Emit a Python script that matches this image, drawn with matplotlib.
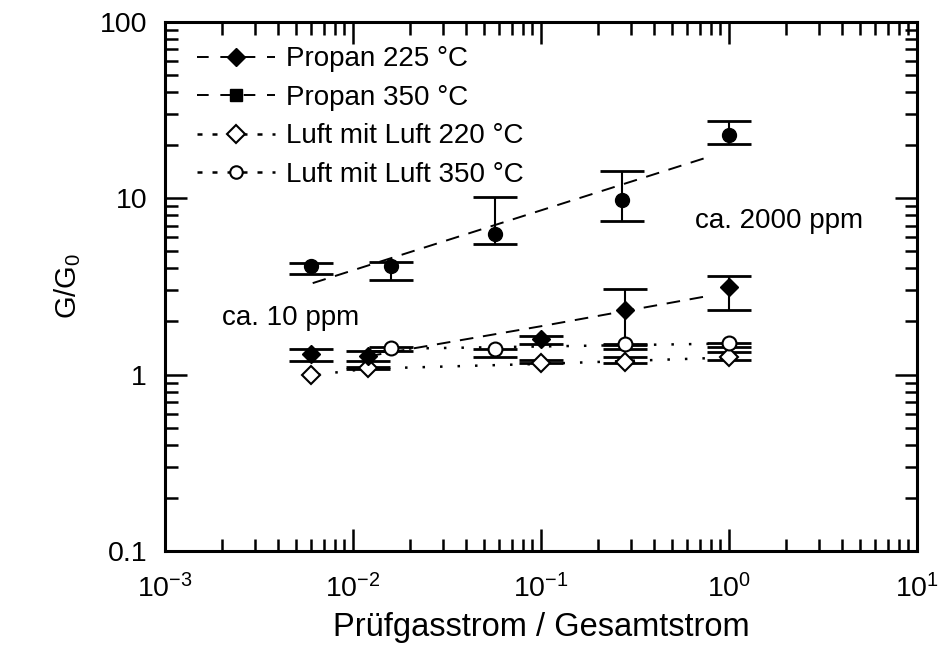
import numpy as np
import matplotlib
matplotlib.use('Agg')
import matplotlib.pyplot as plt
from matplotlib.lines import Line2D
from matplotlib.ticker import FixedLocator, FixedFormatter

plt.rcParams['font.family'] = ['Liberation Sans', 'DejaVu Sans']
plt.rcParams['mathtext.fontset'] = 'custom'
plt.rcParams['mathtext.rm'] = 'Liberation Sans'
plt.rcParams['mathtext.it'] = 'Liberation Sans'

#------------------------------------------------------------------
# Daten
#------------------------------------------------------------------
# Propan 350 °C (gefuellte Kreise)
p350_x = [0.006, 0.016, 0.057, 0.27, 1.0]
p350_y = [4.1, 4.1, 6.3, 9.8, 22.9]
p350_lo = [3.7, 3.45, 5.5, 7.4, 20.3]
p350_hi = [4.3, 4.35, 10.1, 14.2, 27.5]

# Propan 225 °C (gefuellte Rauten)
p225_x = [0.006, 0.012, 0.1, 0.28, 1.0]
p225_y = [1.31, 1.27, 1.59, 2.33, 3.14]
p225_lo = [1.19, 1.20, 1.49, 1.47, 2.33]
p225_hi = [1.39, 1.36, 1.66, 3.06, 3.60]

# Luft mit Luft 220 °C (offene Rauten)
l220_x = [0.006, 0.012, 0.1, 0.28, 1.0]
l220_y = [0.99, 1.09, 1.17, 1.18, 1.25]
l220_lo = [np.nan, 1.10, 1.17, 1.20, 1.21]
l220_hi = [np.nan, 1.11, 1.21, 1.26, 1.34]

# Luft mit Luft 350 °C (offene Kreise)
l350_x = [0.016, 0.057, 0.28, 1.0]
l350_y = [1.42, 1.39, 1.49, 1.51]
l350_lo = [1.36, 1.25, 1.40, 1.44]
l350_hi = [1.44, 1.40, 1.50, 1.52]

# Ausgleichslinien
fit350_x = [0.0061, 0.76]
fit350_y = [3.3, 17.0]
fit225_x = [0.012, 0.1, 0.76]
fit225_y = [1.27, 1.88, 2.78]
fitl350_x = [0.016, 1.0]
fitl350_y = [1.40, 1.50]
fitl220_x = [0.0065, 0.012, 0.1, 1.0]
fitl220_y = [1.0, 1.08, 1.15, 1.25]

legend_labels = ['Propan 225 °C', 'Propan 350 °C',
                 'Luft mit Luft 220 °C', 'Luft mit Luft 350 °C']

#------------------------------------------------------------------
# Plot
#------------------------------------------------------------------
fig = plt.figure(figsize=(9.38, 6.52), dpi=100)
ax = fig.add_axes([0.176, 0.155, 0.8016, 0.8115])
ax.set_xscale('log')
ax.set_yscale('log')

dash = (0, (7, 5))
dots = (0, (1, 6))

ax.plot(fit350_x, fit350_y, color='k', lw=1.4, ls=dash)
ax.plot(fit225_x, fit225_y, color='k', lw=1.4, ls=dash)
ax.plot(fitl350_x, fitl350_y, color='k', lw=1.8, ls=dots)
ax.plot(fitl220_x, fitl220_y, color='k', lw=1.8, ls=dots)


def err(y, lo, hi):
    y = np.array(y, float)
    return [y - np.array(lo, float), np.array(hi, float) - y]


eb = dict(fmt='none', ecolor='k', elinewidth=1.5, capsize=16, capthick=2.0)
ax.errorbar(l220_x, l220_y, yerr=np.abs(err(l220_y, l220_lo, l220_hi)), **eb)
ax.errorbar(l350_x, l350_y, yerr=np.abs(err(l350_y, l350_lo, l350_hi)), **eb)
ax.errorbar(p225_x, p225_y, yerr=err(p225_y, p225_lo, p225_hi), **eb)
ax.errorbar(p350_x, p350_y, yerr=err(p350_y, p350_lo, p350_hi), **eb)

ax.plot(l220_x, l220_y, 'D', ms=9.5, mfc='white', mec='k', mew=1.5, ls='none')
ax.plot(l350_x, l350_y, 'o', ms=10, mfc='white', mec='k', mew=1.5, ls='none')
ax.plot(p225_x, p225_y, 'D', ms=9.5, mfc='k', mec='k', ls='none')
ax.plot(p350_x, p350_y, 'o', ms=10, mfc='k', mec='k', ls='none')

ax.set_xlim(1e-3, 1e1)
ax.set_ylim(0.1, 100)

ax.yaxis.set_major_locator(FixedLocator([0.1, 1, 10, 100]))
ax.yaxis.set_major_formatter(FixedFormatter(['0.1', '1', '10', '100']))

for s in ax.spines.values():
    s.set_linewidth(2.2)
ax.tick_params(which='both', direction='in', top=True, right=True,
               width=1.8, labelsize=20.5)
ax.tick_params(which='major', length=16)
ax.tick_params(which='minor', length=9)
ax.tick_params(axis='x', pad=17)
ax.tick_params(axis='y', pad=13)

ax.set_xlabel('Prüfgasstrom / Gesamtstrom', fontsize=23.5, labelpad=6)
ax.set_ylabel('G/G$_0$', fontsize=21, labelpad=12)

ax.text(0.002, 2.1, 'ca. 10 ppm', fontsize=20, va='center', ha='left')
ax.text(0.66, 7.4, 'ca. 2000 ppm', fontsize=20, va='center', ha='left')

handles = [
    Line2D([], [], color='k', lw=1.4, ls=(0, (6, 6)), marker='D', ms=9,
           mfc='k', mec='k'),
    Line2D([], [], color='k', lw=1.4, ls=(0, (6, 6)), marker='s', ms=8,
           mfc='k', mec='k'),
    Line2D([], [], color='k', lw=1.8, ls=(0, (2, 4)), marker='D', ms=9,
           mfc='white', mec='k', mew=1.5),
    Line2D([], [], color='k', lw=1.8, ls=(0, (2, 4)), marker='o', ms=9,
           mfc='white', mec='k', mew=1.5),
]
ax.legend(handles, legend_labels, loc='upper left', frameon=False,
          fontsize=20, handlelength=2.8, handletextpad=0.4,
          labelspacing=0.45, borderaxespad=0.2,
          bbox_to_anchor=(0.02, 0.985))

fig.savefig('out.png', dpi=100)
